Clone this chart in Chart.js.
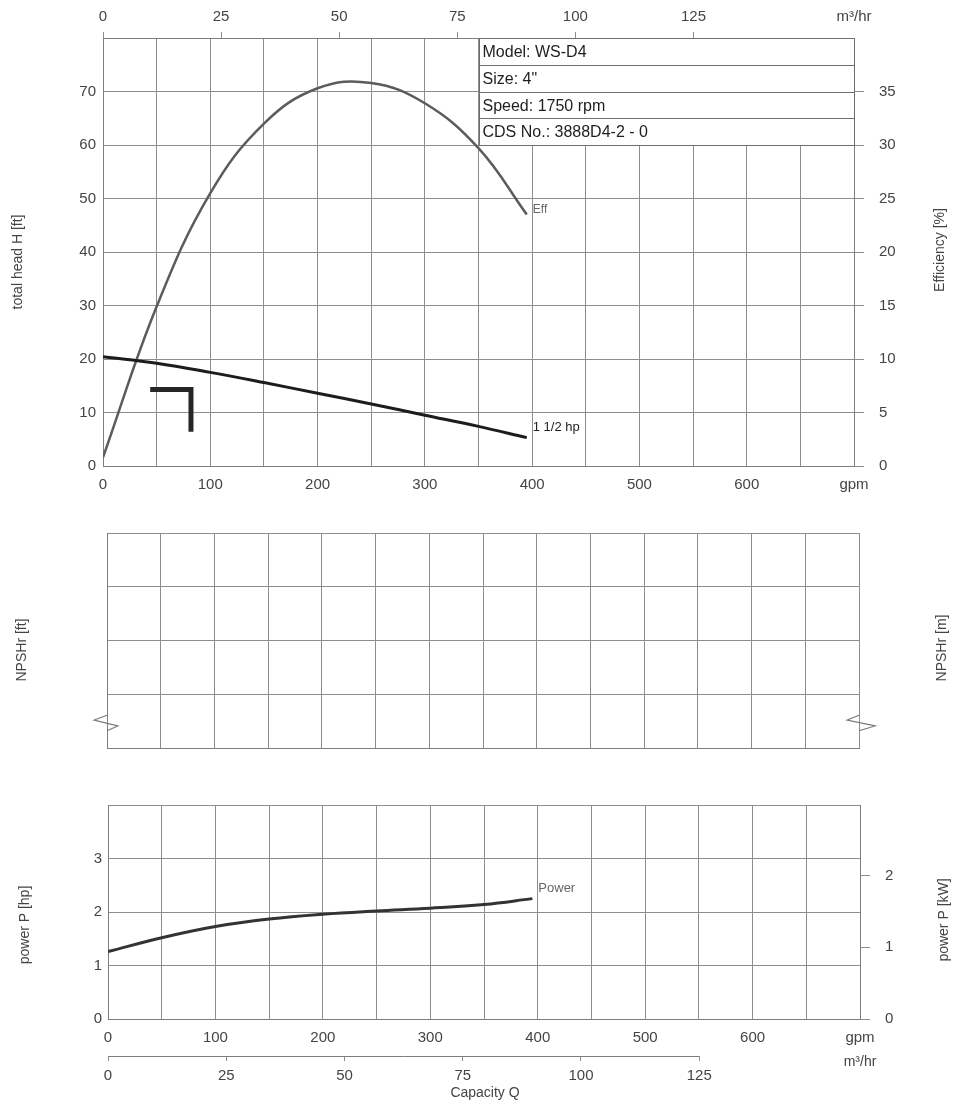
<!DOCTYPE html>
<html>
<head>
<meta charset="utf-8">
<title>WS-D4 pump curve</title>
<script src="https://cdn.jsdelivr.net/npm/chart.js@4.4.1/dist/chart.umd.min.js"></script>
<style>
  body { margin: 0; background: #fff; }
  .wrap { position: relative; width: 953px; height: 1105px; }
  canvas { position: absolute; left: 0; }
</style>
</head>
<body>
<div class="wrap">
  <canvas id="headChart" width="953" height="500" style="top:0"></canvas>
  <canvas id="npshChart" width="953" height="270" style="top:500px"></canvas>
  <canvas id="powerChart" width="953" height="335" style="top:770px"></canvas>
</div>
<script>
// capacity is plotted in gpm; 1 m3/hr = 4.4029 gpm, 1 hp = 0.7457 kW
const GPM_PER_M3H = 4.4029;
const KW_PER_HP = 0.7457;
const gpmMax = 700;

// head curve (1 1/2 hp)
const headGpm = [0, 50, 100, 150, 200, 250, 300, 350, 395];
const headFt = [20.4, 19.2, 17.5, 15.6, 13.6, 11.6, 9.5, 7.4, 5.3];

// efficiency curve
const effGpm = [0, 50, 100, 150, 200, 250, 300, 350, 395];
const effPct = [0.8, 14.9, 25.5, 32, 35.3, 35.8, 33.9, 29.7, 23.5];

// power curve
const powerGpm = [0, 50, 100, 150, 200, 250, 300, 350, 395];
const powerHp = [1.26, 1.52, 1.73, 1.87, 1.96, 2.02, 2.07, 2.14, 2.25];

// black corner mark in the head chart
const cornerGpm = [44, 82, 82];
const cornerFt = [14.3, 14.3, 6.4];

// axis break marks on the NPSH chart
const breakGpmLeft = [0, -12, 10, 0];
const breakGpmRight = [700, 689, 715, 700];
const breakNpsh = [0.61, 0.52, 0.41, 0.32];

const infoLines = ['Model: WS-D4', 'Size: 4"', 'Speed: 1750 rpm', 'CDS No.: 3888D4-2 - 0'];
const m3hTicks = [0, 25, 50, 75, 100, 125];
const kwTicks = [0, 1, 2];

const FONT = '"Liberation Sans", Arial, sans-serif';
Chart.defaults.font.family = FONT;
Chart.defaults.font.size = 15;
Chart.defaults.color = '#444';

const gridColor = '#8e8e8e';
const borderColor = '#7e7e7e';

function pairs(xs, ys) {
    return xs.map(function (x, i) { return { x: x, y: ys[i] }; });
}
function fixWidth(w) { return function (scale) { scale.width = w; }; }
function fixHeight(h) { return function (scale) { scale.height = h; }; }
function gpmLabel(v) {
    if (v === gpmMax) return 'gpm';
    return v % 100 === 0 ? v : '';
}
function curve(label, xs, ys, color, width, axis) {
    return {
        label: label,
        data: pairs(xs, ys),
        yAxisID: axis,
        borderColor: color,
        borderWidth: width,
        tension: 0.4,
        pointRadius: 0,
        endLabel: true
    };
}

// texts beside the axes
function sideTitles(items) {
    return {
        id: 'sideTitles',
        afterDraw(chart) {
            const ctx = chart.ctx;
            items.forEach(function (t) {
                ctx.save();
                ctx.fillStyle = '#444';
                ctx.font = (t.size || 14) + 'px ' + FONT;
                ctx.textAlign = 'center';
                ctx.textBaseline = 'middle';
                ctx.translate(t.x, t.y);
                if (t.rotate) ctx.rotate(-Math.PI / 2);
                ctx.fillText(t.text, 0, 0);
                ctx.restore();
            });
        }
    };
}

// name written at the end of a curve
const endLabels = {
    id: 'endLabels',
    afterDatasetsDraw(chart) {
        const ctx = chart.ctx;
        chart.data.datasets.forEach(function (ds, i) {
            if (!ds.endLabel) return;
            const pts = chart.getDatasetMeta(i).data;
            const p = pts[pts.length - 1];
            ctx.save();
            ctx.font = (ds.labelSize || 13) + 'px ' + FONT;
            ctx.fillStyle = ds.labelColor || '#666';
            ctx.textBaseline = 'middle';
            ctx.fillText(ds.label, p.x + 6, p.y - (ds.labelRise || 8));
            ctx.restore();
        });
    }
};

// model info box, top right of the head chart
const infoTable = {
    id: 'infoTable',
    beforeDatasetsDraw(chart) {
        const x = chart.scales.x, y = chart.scales.y, ctx = chart.ctx;
        const left = Math.round(x.getPixelForValue(350)) + 0.5;
        const right = Math.round(x.getPixelForValue(700)) + 0.5;
        ctx.save();
        ctx.fillStyle = '#fff';
        ctx.fillRect(left, y.getPixelForValue(80), right - left, y.getPixelForValue(60) - y.getPixelForValue(80));
        ctx.strokeStyle = '#6e6e6e';
        ctx.lineWidth = 1;
        ctx.font = '16px ' + FONT;
        ctx.textBaseline = 'middle';
        infoLines.forEach(function (txt, i) {
            const t = Math.round(y.getPixelForValue(80 - 5 * i)) + 0.5;
            const b = Math.round(y.getPixelForValue(75 - 5 * i)) + 0.5;
            ctx.strokeRect(left, t, right - left, b - t);
            ctx.fillStyle = '#1e1e1e';
            ctx.fillText(txt, left + 3, (t + b) / 2 + 1);
        });
        ctx.restore();
    }
};

// short m3/hr axis line under the power chart
const m3hLine = {
    id: 'm3hLine',
    afterDraw(chart) {
        const s = chart.scales.x3, ctx = chart.ctx;
        const yy = Math.round(s.top) + 0.5;
        ctx.save();
        ctx.strokeStyle = borderColor;
        ctx.lineWidth = 1;
        ctx.beginPath();
        ctx.moveTo(s.getPixelForValue(0), yy);
        ctx.lineTo(s.getPixelForValue(125), yy);
        ctx.stroke();
        ctx.restore();
    }
};

function hideTick(last) {
    return function (c) { return c.tick && c.tick.value === last ? 'rgba(0,0,0,0)' : gridColor; };
}

const base = {
    responsive: false,
    animation: false,
    plugins: { legend: { display: false }, tooltip: { enabled: false } }
};

// ---- head / efficiency chart ----
const headDs = curve('1 1/2 hp', headGpm, headFt, '#1c1c1c', 3, 'y');
headDs.labelColor = '#222';
headDs.labelRise = 10;
headDs.labelSize = 13;
const effDs = curve('Eff', effGpm, effPct, '#5c5c5c', 2.5, 'y2');
effDs.labelRise = 5;
effDs.labelSize = 12;

new Chart(document.getElementById('headChart'), {
    type: 'line',
    data: {
        datasets: [
            headDs,
            effDs,
            {
                data: pairs(cornerGpm, cornerFt),
                yAxisID: 'y',
                borderColor: '#262626',
                borderWidth: 5,
                borderJoinStyle: 'miter',
                tension: 0,
                pointRadius: 0
            }
        ]
    },
    options: Object.assign({}, base, {
        layout: { padding: 0 },
        scales: {
            x: {
                type: 'linear', position: 'bottom', min: 0, max: gpmMax,
                ticks: { stepSize: 50, padding: 10, autoSkip: false, maxRotation: 0, callback: gpmLabel },
                grid: { color: gridColor, drawTicks: false },
                border: { color: borderColor },
                afterFit: fixHeight(34)
            },
            x2: {
                type: 'linear', position: 'top', min: 0, max: gpmMax / GPM_PER_M3H,
                afterBuildTicks: function (s) { s.ticks = m3hTicks.concat([s.max]).map(function (v) { return { value: v }; }); },
                ticks: {
                    padding: 6, autoSkip: false, maxRotation: 0,
                    callback: function (v) { return v === this.max ? 'm³/hr' : v; }
                },
                grid: { drawOnChartArea: false, tickLength: 6, color: hideTick(gpmMax / GPM_PER_M3H) },
                border: { color: borderColor },
                afterFit: fixHeight(38)
            },
            y: {
                min: 0, max: 80,
                ticks: { stepSize: 10, padding: 7, callback: function (v) { return v === 80 ? '' : v; } },
                grid: { color: gridColor, drawTicks: false },
                border: { color: borderColor },
                afterFit: fixWidth(103)
            },
            y2: {
                position: 'right', min: 0, max: 40,
                ticks: { stepSize: 5, padding: 15, callback: function (v) { return v === 40 ? '' : v; } },
                grid: { drawOnChartArea: false, tickLength: 10, color: hideTick(40) },
                border: { color: borderColor },
                afterFit: fixWidth(99)
            }
        }
    }),
    plugins: [infoTable, endLabels, sideTitles([
        { text: 'total head H [ft]', x: 18, y: 262, rotate: true },
        { text: 'Efficiency [%]', x: 940, y: 250, rotate: true }
    ])]
});

// ---- NPSHr chart (no curve) ----
function breakMark(xs) {
    return {
        data: pairs(xs, breakNpsh),
        borderColor: '#777',
        borderWidth: 1.2,
        tension: 0,
        pointRadius: 0,
        clip: false
    };
}

new Chart(document.getElementById('npshChart'), {
    type: 'line',
    data: { datasets: [breakMark(breakGpmLeft), breakMark(breakGpmRight)] },
    options: Object.assign({}, base, {
        layout: { padding: { top: 33, right: 94 } },
        scales: {
            x: {
                type: 'linear', min: 0, max: gpmMax,
                ticks: { stepSize: 50, display: false },
                grid: { color: gridColor, drawTicks: false },
                border: { color: borderColor },
                afterFit: fixHeight(22)
            },
            y: {
                min: 0, max: 4,
                ticks: { stepSize: 1, display: false },
                grid: { color: gridColor, drawTicks: false },
                border: { color: borderColor },
                afterFit: fixWidth(107)
            }
        }
    }),
    plugins: [sideTitles([
        { text: 'NPSHr [ft]', x: 22, y: 150, rotate: true },
        { text: 'NPSHr [m]', x: 942, y: 148, rotate: true }
    ])]
});

// ---- power chart ----
const powerDs = curve('Power', powerGpm, powerHp, '#333', 3, 'y');
powerDs.labelRise = 10;

new Chart(document.getElementById('powerChart'), {
    type: 'line',
    data: { datasets: [powerDs] },
    options: Object.assign({}, base, {
        layout: { padding: { top: 35 } },
        scales: {
            x: {
                type: 'linear', position: 'bottom', weight: 0, min: 0, max: gpmMax,
                ticks: { stepSize: 50, padding: 10, autoSkip: false, maxRotation: 0, callback: gpmLabel },
                grid: { color: gridColor, drawTicks: false },
                border: { color: borderColor },
                afterFit: fixHeight(37)
            },
            x3: {
                type: 'linear', position: 'bottom', weight: 1, min: 0, max: gpmMax / GPM_PER_M3H,
                afterBuildTicks: function (s) { s.ticks = m3hTicks.map(function (v) { return { value: v }; }); },
                ticks: { padding: 6, autoSkip: false, maxRotation: 0 },
                grid: { drawOnChartArea: false, tickLength: 5, color: gridColor },
                border: { display: false },
                afterFit: fixHeight(49)
            },
            y: {
                min: 0, max: 4,
                ticks: { stepSize: 1, padding: 6, callback: function (v) { return v === 4 ? '' : v; } },
                grid: { color: gridColor, drawTicks: false },
                border: { color: borderColor },
                afterFit: fixWidth(108)
            },
            y2: {
                position: 'right', min: 0, max: 4 * KW_PER_HP,
                afterBuildTicks: function (s) { s.ticks = kwTicks.map(function (v) { return { value: v }; }); },
                ticks: { padding: 15 },
                grid: { drawOnChartArea: false, tickLength: 10, color: gridColor },
                border: { color: borderColor },
                afterFit: fixWidth(93)
            }
        }
    }),
    plugins: [endLabels, m3hLine, sideTitles([
        { text: 'power P [hp]', x: 25, y: 155, rotate: true },
        { text: 'power P [kW]', x: 944, y: 150, rotate: true },
        { text: 'Capacity Q', x: 485, y: 323 },
        { text: 'm³/hr', x: 860, y: 292 }
    ])]
});
</script>
</body>
</html>
